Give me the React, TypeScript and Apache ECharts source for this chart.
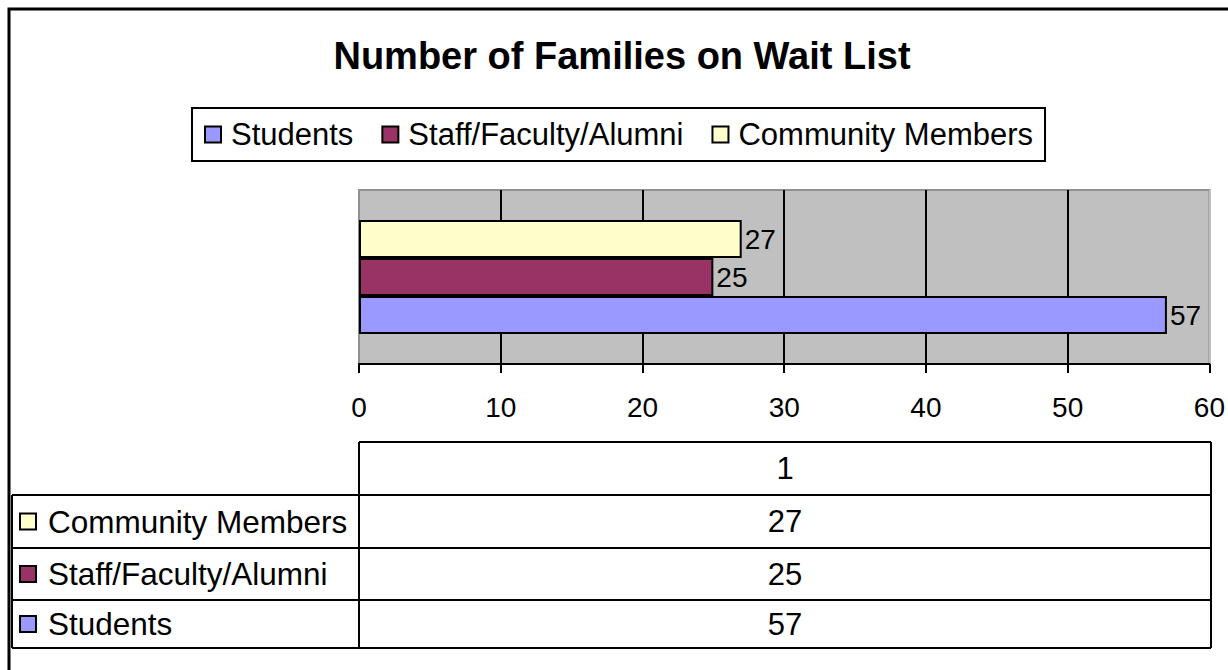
import React, { useEffect, useRef } from "react";
import * as echarts from "echarts";

const titleText = "Number of Families on Wait List";
const categories = ["1"];
const seriesNames = ["Students", "Staff/Faculty/Alumni", "Community Members"];
const studentsValues = [57];
const staffValues = [25];
const communityValues = [27];
const seriesColors = ["#9999FF", "#993366", "#FFFFCC"];
const axisMin = 0;
const axisMax = 60;
const axisInterval = 10;

const FONT = "'Liberation Sans', Arial, sans-serif";

export default function App() {
  const ref = useRef<HTMLDivElement>(null);
  useEffect(() => {
    if (!ref.current) return;
    const chart = echarts.init(ref.current, undefined, { renderer: "svg" });
    const valuesList = [studentsValues, staffValues, communityValues];

    // table layout
    const tLeft = 12, tDiv = 359, tRight = 1211;
    const headerTop = 442, headerBottom = 495;
    const rowBounds = [495, 548, 600, 648];
    const valueCenter = (tDiv + tRight) / 2;
    const lineStyle = { stroke: "#000", lineWidth: 2 };
    const graphics: any[] = [];
    // frame
    graphics.push({ type: "polyline", shape: { points: [[9, 720], [9, 9], [1300, 9]] }, style: { stroke: "#000", lineWidth: 3, fill: "none" }, silent: true });
    // title
    graphics.push({ type: "text", x: 622, y: 56, style: { text: titleText, font: `bold 38px ${FONT}`, fill: "#000", textAlign: "center", textVerticalAlign: "middle" } });
    // table lines
    const hl = (y: number, x1: number, x2: number) => graphics.push({ type: "line", shape: { x1, y1: y, x2, y2: y }, style: lineStyle });
    const vl = (x: number, y1: number, y2: number) => graphics.push({ type: "line", shape: { x1: x, y1, x2: x, y2 }, style: lineStyle });
    hl(headerTop, tDiv, tRight);
    rowBounds.forEach((y) => hl(y, tLeft, tRight));
    vl(tDiv, headerTop, rowBounds[rowBounds.length - 1]);
    vl(tRight, headerTop, rowBounds[rowBounds.length - 1]);
    vl(tLeft, rowBounds[0], rowBounds[rowBounds.length - 1]);
    graphics.push({ type: "text", x: valueCenter, y: (headerTop + headerBottom) / 2, style: { text: categories[0], font: `31px ${FONT}`, fill: "#000", textAlign: "center", textVerticalAlign: "middle" } });
    // rows: reverse order of series
    const order = [2, 1, 0];
    order.forEach((si, r) => {
      const cy = (rowBounds[r] + rowBounds[r + 1]) / 2;
      graphics.push({ type: "rect", shape: { x: 20, y: cy - 8, width: 16, height: 16 }, style: { fill: seriesColors[si], stroke: "#000", lineWidth: 2 } });
      graphics.push({ type: "text", x: 48, y: cy, style: { text: seriesNames[si], font: `31.5px ${FONT}`, fill: "#000", textAlign: "left", textVerticalAlign: "middle" } });
      graphics.push({ type: "text", x: valueCenter, y: cy, style: { text: String(valuesList[si][0]), font: `31px ${FONT}`, fill: "#000", textAlign: "center", textVerticalAlign: "middle" } });
    });

    // series listed top-to-bottom order so Students sits at the bottom
    const seriesOrder = [2, 1, 0];

    chart.setOption({
      animation: false,
      backgroundColor: "#fff",
      legend: {
        left: 192,
        top: 108,
        padding: [11, 12, 11, 12],
        itemGap: 28,
        itemWidth: 16,
        itemHeight: 16,
        borderColor: "#000",
        borderWidth: 2,
        icon: "rect",
        textStyle: { fontSize: 31, fontFamily: FONT, color: "#000", padding: [0, 0, 0, 5] },
        data: seriesNames.map((n, i) => ({ name: n, itemStyle: { color: seriesColors[i], borderColor: "#000", borderWidth: 2 } })),
      },
      grid: {
        left: 359,
        right: 17,
        top: 190,
        bottom: 306,
        show: true,
        backgroundColor: "#C0C0C0",
        borderColor: "#909090",
        borderWidth: 2,
      },
      xAxis: {
        type: "value",
        min: axisMin,
        max: axisMax,
        interval: axisInterval,
        axisLine: { show: true, lineStyle: { color: "#000", width: 2 } },
        axisTick: { show: true, length: 9, lineStyle: { color: "#000", width: 2 } },
        axisLabel: { color: "#000", fontSize: 28, fontFamily: FONT, margin: 29 },
        splitLine: { show: true, lineStyle: { color: ["#909090", "#000", "#000", "#000", "#000", "#000", "#C0C0C0"], width: 2 } },
      },
      yAxis: {
        type: "category",
        data: categories,
        axisLine: { show: false },
        axisTick: { show: false },
        axisLabel: { show: false },
      },
      series: seriesOrder.map((i) => ({
        name: seriesNames[i],
        type: "bar",
        data: valuesList[i],
        barWidth: 38,
        barGap: "0%",
        itemStyle: { color: seriesColors[i], borderColor: "#000", borderWidth: 2 },
        label: { show: true, position: "right", distance: 3, color: "#000", fontSize: 28, fontFamily: FONT },
      })),
      graphic: graphics,
    });
    return () => chart.dispose();
  }, []);
  return <div ref={ref} style={{ position: "fixed", left: 0, top: 0, width: 1228, height: 670 }} />;
}
